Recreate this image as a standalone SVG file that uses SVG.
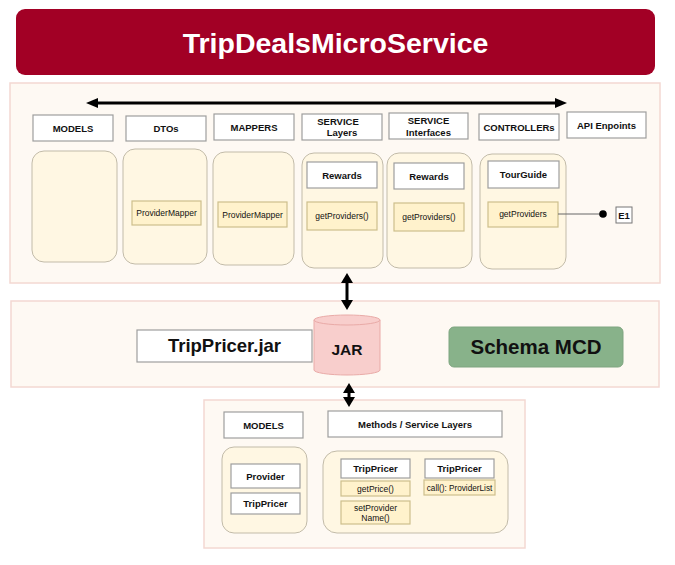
<svg xmlns="http://www.w3.org/2000/svg" width="675" height="565" viewBox="0 0 675 565">
<defs>
<marker id="ah" viewBox="0 0 12 10" refX="0" refY="5" markerWidth="12" markerHeight="10" markerUnits="userSpaceOnUse" orient="auto-start-reverse">
<path d="M0,0 L12,5 L0,10 z" fill="#000"/>
</marker>
<marker id="av" viewBox="0 0 10 12" refX="0" refY="6" markerWidth="10" markerHeight="12" markerUnits="userSpaceOnUse" orient="auto-start-reverse">
<path d="M0,0 L10,6 L0,12 z" fill="#000"/>
</marker>
<style>
text{font-family:"Liberation Sans",Arial,Helvetica,sans-serif;fill:#111;text-anchor:middle}
.panel{fill:#fef9f3;stroke:#f3d8d2;stroke-width:1.5}
.cont{fill:#fff7e3;stroke:#c2bba9;stroke-width:1}
.wbox{fill:#fff;stroke:#9e9e9e;stroke-width:1.2}
.ybox{fill:#fff2cc;stroke:#cdbf8c;stroke-width:1.2}
.hl{font-size:9.5px;font-weight:bold}
.sm{font-size:8.5px}
.conn{stroke:#000;stroke-width:3;fill:none}
</style>
</defs>

<g id="title">
<rect x="16" y="9" width="639" height="66" rx="9" fill="#a20025"/>
<text x="335.5" y="53" style="font-size:28.5px;font-weight:bold;fill:#fff">TripDealsMicroService</text>
</g>

<g id="panel-app">
<rect class="panel" x="10" y="83" width="650" height="200"/>
</g>

<g id="hdr-models"><rect class="wbox" x="33" y="115" width="80" height="26"/><text class="hl" x="73" y="131.5">MODELS</text></g>
<g id="hdr-dtos"><rect class="wbox" x="126" y="116" width="80" height="25"/><text class="hl" x="166" y="132">DTOs</text></g>
<g id="hdr-mappers"><rect class="wbox" x="214" y="114" width="80" height="26"/><text class="hl" x="254" y="130.5">MAPPERS</text></g>
<g id="hdr-service-layers"><rect class="wbox" x="302" y="114" width="80" height="26"/><text class="hl" x="338" y="124.5">SERVICE</text><text class="hl" x="342" y="136">Layers</text></g>
<g id="hdr-service-interfaces"><rect class="wbox" x="389" y="113" width="79" height="26"/><text class="hl" x="428.5" y="123.5">SERVICE</text><text class="hl" x="428.5" y="135.5">Interfaces</text></g>
<g id="hdr-controllers"><rect class="wbox" x="479" y="114" width="80" height="26"/><text class="hl" x="519" y="130.5">CONTROLLERs</text></g>
<g id="hdr-api"><rect class="wbox" x="567" y="112" width="79" height="26"/><text class="hl" x="606.5" y="128.5">API Enpoints</text></g>

<g id="col-models"><rect class="cont" x="32" y="151" width="85" height="111" rx="12"/></g>
<g id="col-dtos"><rect class="cont" x="123" y="149" width="84" height="115" rx="12"/>
<rect class="ybox" x="132" y="201" width="69" height="24"/><text class="sm" x="166.5" y="216">ProviderMapper</text></g>
<g id="col-mappers"><rect class="cont" x="213" y="152" width="81" height="113" rx="12"/>
<rect class="ybox" x="218" y="202" width="69" height="25"/><text class="sm" x="252.5" y="217.5">ProviderMapper</text></g>
<g id="col-service-layers"><rect class="cont" x="302" y="153" width="81" height="115" rx="12"/>
<rect class="wbox" x="307" y="162" width="70" height="26"/><text class="hl" x="342" y="178.5">Rewards</text>
<rect class="ybox" x="307" y="202" width="70" height="28"/><text class="sm" x="342" y="219">getProviders()</text></g>
<g id="col-service-interfaces"><rect class="cont" x="387" y="153" width="85" height="115" rx="12"/>
<rect class="wbox" x="394" y="163" width="70" height="26"/><text class="hl" x="429" y="179.5">Rewards</text>
<rect class="ybox" x="394" y="203" width="70" height="28"/><text class="sm" x="429" y="220">getProviders()</text></g>
<g id="col-controllers"><rect class="cont" x="480" y="154" width="86" height="115" rx="12"/>
<rect class="wbox" x="488" y="161" width="71" height="27"/><text class="hl" x="523.5" y="177.5">TourGuide</text>
<rect class="ybox" x="488" y="202" width="70" height="25"/><text class="sm" x="523" y="217">getProviders</text></g>
<g id="endpoint-e1"><rect x="616" y="207" width="16" height="16" fill="#fff" stroke="#777" stroke-width="1"/><text class="hl" x="624" y="218.5">E1</text></g>

<g id="panel-jar">
<rect class="panel" x="11" y="301" width="648" height="86"/>
</g>
<g id="trippricer-jar"><rect class="wbox" x="137" y="330" width="175" height="32"/><text x="224.5" y="352" style="font-size:18.5px;font-weight:bold">TripPricer.jar</text></g>
<g id="jar">
<path d="M314,320 L314,370 A33,5 0 0 0 380,370 L380,320" fill="#f8cecc" stroke="#e9aaa7" stroke-width="1"/>
<ellipse cx="347" cy="320" rx="33" ry="5" fill="#f8cecc" stroke="#e9aaa7" stroke-width="1"/>
<text x="347" y="355" style="font-size:15.5px;font-weight:bold">JAR</text>
</g>
<g id="schema-mcd"><rect x="449" y="327" width="174" height="40" rx="5" fill="#88b28a" stroke="#7ea580" stroke-width="1"/><text x="536" y="354" style="font-size:20.5px;font-weight:bold;fill:#111">Schema MCD</text></g>

<g id="panel-trippricer">
<rect class="panel" x="204" y="400" width="321" height="148"/>
</g>
<g id="lib-models-hdr"><rect class="wbox" x="224" y="412" width="79" height="26"/><text class="hl" x="263.5" y="428.5">MODELS</text></g>
<g id="lib-methods-hdr"><rect class="wbox" x="328" y="411" width="174" height="26"/><text class="hl" x="415" y="427.5">Methods / Service Layers</text></g>
<g id="lib-models"><rect class="cont" x="222" y="447" width="85" height="86" rx="12"/>
<rect class="wbox" x="231" y="464" width="69" height="24"/><text class="hl" x="265.5" y="479.5">Provider</text>
<rect class="wbox" x="231" y="493" width="69" height="21"/><text class="hl" x="265.5" y="507">TripPricer</text></g>
<g id="lib-methods"><rect class="cont" x="323" y="451" width="185" height="82" rx="14"/>
<rect class="wbox" x="341" y="459" width="69" height="19"/><text class="hl" x="375.5" y="472">TripPricer</text>
<rect class="ybox" x="341" y="481" width="69" height="15"/><text class="sm" x="375.5" y="491.5">getPrice()</text>
<rect class="ybox" x="341" y="501" width="69" height="23"/><text class="sm" x="375.5" y="510.5">setProvider</text><text class="sm" x="375.5" y="520.5">Name()</text>
<rect class="wbox" x="425" y="459" width="69" height="19"/><text class="hl" x="459.5" y="472">TripPricer</text>
<rect class="ybox" x="424" y="480" width="71" height="15"/><text x="459.5" y="490.5" style="font-size:8.2px">call(): ProviderList</text></g>

<g id="connectors">
<line class="conn" x1="98" y1="103" x2="555" y2="103" marker-start="url(#ah)" marker-end="url(#ah)"/>
<line class="conn" x1="347" y1="283" x2="347" y2="300" marker-start="url(#av)" marker-end="url(#av)"/>
<line class="conn" x1="349" y1="393" x2="349" y2="397" marker-start="url(#av)" marker-end="url(#av)"/>
<line x1="558" y1="214" x2="603" y2="214" stroke="#666" stroke-width="1"/>
<circle cx="603" cy="214" r="3.8" fill="#000"/>
</g>
</svg>
